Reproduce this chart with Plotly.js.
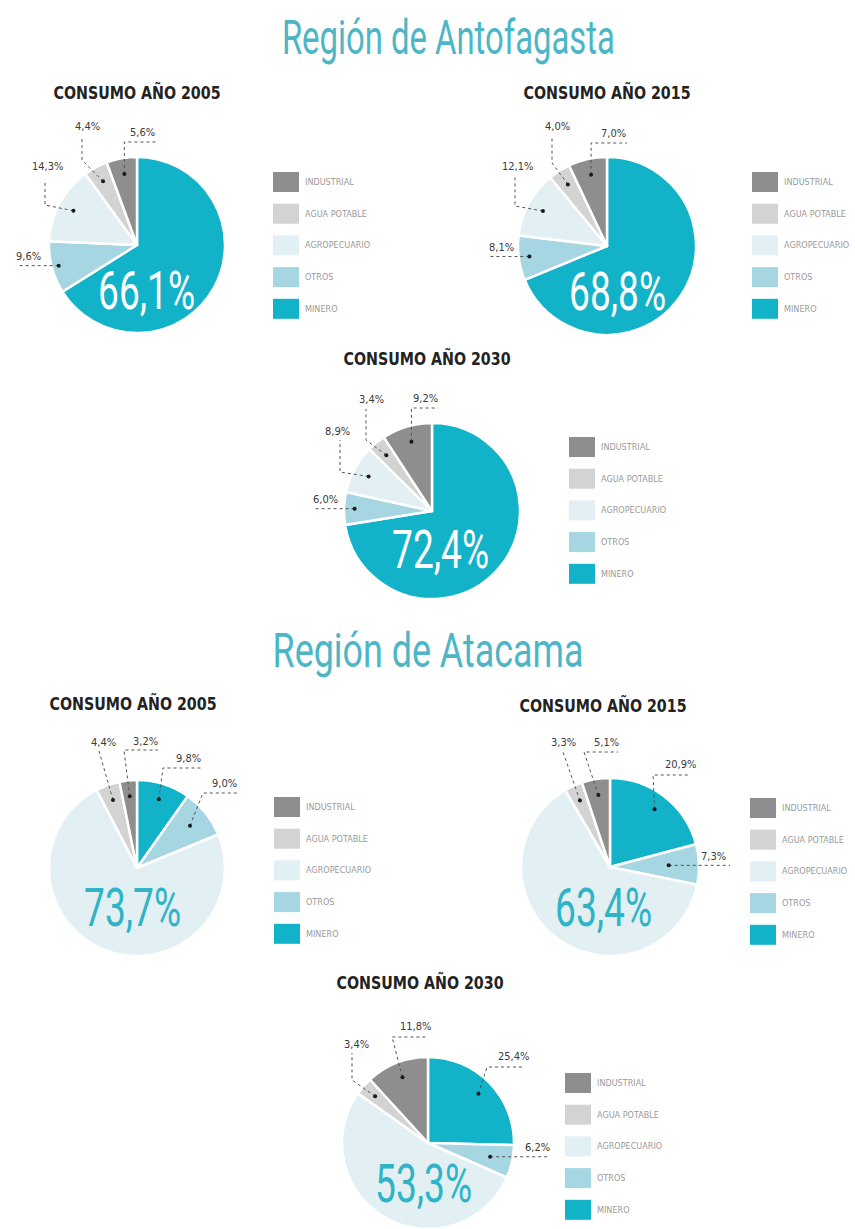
<!DOCTYPE html>
<html>
<head>
<meta charset="utf-8">
<script src="https://cdn.plot.ly/plotly-3.0.1.min.js"></script>
<style>html,body{margin:0;padding:0;background:#fff;}#chart{width:855px;height:1229px;}</style>
</head>
<body>
<div id="chart"></div>
<script>
// ---------- DATA ----------
// slice order (clockwise from 12 o'clock)
const sectors = ['MINERO', 'OTROS', 'AGROPECUARIO', 'AGUA POTABLE', 'INDUSTRIAL'];
const legendLabels = ['INDUSTRIAL', 'AGUA POTABLE', 'AGROPECUARIO', 'OTROS', 'MINERO'];
const regionTitles = ['Región de Antofagasta', 'Región de Atacama'];
const yearTitles = ['CONSUMO AÑO 2005', 'CONSUMO AÑO 2015', 'CONSUMO AÑO 2030'];

const antofagasta2005 = [66.1, 9.6, 14.3, 4.4, 5.6];
const antofagasta2015 = [68.8, 8.1, 12.1, 4.0, 7.0];
const antofagasta2030 = [72.4, 6.0, 8.9, 3.4, 9.2];
const atacama2005 = [9.8, 9.0, 73.7, 4.4, 3.2];
const atacama2015 = [20.9, 7.3, 63.4, 3.3, 5.1];
const atacama2030 = [25.4, 6.2, 53.3, 3.4, 11.8];

// ---------- STYLE / LAYOUT ----------
const W = 855, H = 1229;
const COND = '"DejaVu Sans Condensed", "Liberation Sans Narrow", sans-serif';
const LIGHT = 'Roboto, "DejaVu Sans Condensed", sans-serif';
const sectorColors = {
  'MINERO': '#12b2c9',
  'OTROS': '#a5d6e2',
  'AGROPECUARIO': '#e2eff3',
  'AGUA POTABLE': '#d3d3d3',
  'INDUSTRIAL': '#8e8e8e'
};
const TEAL = '#4cb6c6';

// positions in pixels (layout only)
const charts = [
  {values: antofagasta2005, title: 0, cx: 137, cy: 245, r: 88, tx: 137, ty: 92,
   big: {idx: 0, x: 146, y: 290, color: '#ffffff'}, lx: 273, ly: 182,
   leaders: [
     {idx: 4, pts: [[null, 142], [156, 142]], lab: [142, 132]},
     {idx: 3, pts: [[82, 160], [82, 136]], lab: [87, 126]},
     {idx: 2, pts: [[45, 205], [45, 181]], lab: [47, 166]},
     {idx: 1, k: 0.92, pts: [[18, null]], lab: [29, null]}
   ]},
  {values: antofagasta2015, title: 1, cx: 607, cy: 246, r: 89, tx: 607, ty: 92,
   big: {idx: 0, x: 617, y: 291, color: '#ffffff'}, lx: 752, ly: 182,
   leaders: [
     {idx: 4, pts: [[null, 143], [627, 143]], lab: [613, 133]},
     {idx: 3, pts: [[552, 163], [552, 136]], lab: [557, 126]},
     {idx: 2, pts: [[515, 206], [515, 177]], lab: [517, 166]},
     {idx: 1, k: 0.88, pts: [[488, null]], lab: [501, null]}
   ]},
  {values: antofagasta2030, title: 2, cx: 432, cy: 511, r: 88, tx: 427, ty: 358,
   big: {idx: 0, x: 440, y: 549, color: '#ffffff'}, lx: 569, ly: 447,
   leaders: [
     {idx: 4, pts: [[null, 408], [438, 408]], lab: [425, 398]},
     {idx: 3, pts: [[366, 440], [366, 409]], lab: [371, 400]},
     {idx: 2, pts: [[340, 472], [340, 440]], lab: [337, 431]},
     {idx: 1, k: 0.88, pts: [[315, null]], lab: [325, null]}
   ]},
  {values: atacama2005, title: 0, cx: 137, cy: 868, r: 88, tx: 133, ty: 703,
   big: {idx: 2, x: 132, y: 907, color: '#2fb3c7'}, lx: 274, ly: 807,
   leaders: [
     {idx: 4, pts: [[124, 750], [158, 750]], lab: [145, 741]},
     {idx: 3, pts: [[99, 751]], lab: [103, 742]},
     {idx: 0, pts: [[163, 768], [202, 768]], lab: [188, 758]},
     {idx: 1, k: 0.77, pts: [[203, 793], [238, 793]], lab: [224, 783]}
   ]},
  {values: atacama2015, title: 1, cx: 610, cy: 867, r: 89, tx: 603, ty: 705,
   big: {idx: 2, x: 603, y: 907, color: '#2fb3c7'}, lx: 750, ly: 808,
   leaders: [
     {idx: 4, pts: [[584, 752], [618, 752]], lab: [606, 742]},
     {idx: 3, pts: [[563, 752]], lab: [563, 742]},
     {idx: 0, pts: [[653, 775], [688, 775]], lab: [680, 764]},
     {idx: 1, k: 0.66, pts: [[730, null]], lab: [713, null]}
   ]},
  {values: atacama2030, title: 2, cx: 428, cy: 1143, r: 86, tx: 420, ty: 982,
   big: {idx: 2, x: 423, y: 1183, color: '#2fb3c7'}, lx: 565, ly: 1083,
   leaders: [
     {idx: 4, pts: [[392, 1037], [427, 1037]], lab: [415, 1026]},
     {idx: 3, pts: [[352, 1080], [352, 1053]], lab: [356, 1044]},
     {idx: 0, pts: [[487, 1067], [522, 1067]], lab: [513, 1056]},
     {idx: 1, k: 0.74, pts: [[550, null]], lab: [537, null]}
   ]}
];
const regionPos = [[448, 38], [428, 651]];
const regionWidth = [333, 311];
const LEG_STEP = 31.7, SW = 26, SH = 20;
const DOT_K = 0.82;

// ---------- BUILD ----------
const px = x => x / W;
const py = y => 1 - y / H;
const fmt = v => v.toFixed(1).replace('.', ',') + '%';

const traces = [];
const shapes = [];
const annotations = [];
const condense = []; // {i, w}: squeeze annotation i to width w (narrow display face)

function ann(text, x, y, font, xanchor) {
  annotations.push({text: text, x: px(x), y: py(y), xref: 'paper', yref: 'paper',
    xanchor: xanchor || 'center', yanchor: 'middle', showarrow: false, font: font});
  return annotations.length - 1;
}

regionTitles.forEach((t, i) => {
  const idx = ann(t, regionPos[i][0], regionPos[i][1], {family: LIGHT, size: 48, weight: 400, color: TEAL});
  condense.push({i: idx, w: regionWidth[i]});
});

charts.forEach(c => {
  traces.push({
    type: 'pie', labels: sectors, values: c.values, sort: false, direction: 'clockwise', rotation: 0,
    textinfo: 'none', hoverinfo: 'label+percent', showlegend: false,
    marker: {colors: sectors.map(s => sectorColors[s]), line: {color: '#ffffff', width: 2.5}},
    domain: {x: [px(c.cx - c.r), px(c.cx + c.r)], y: [py(c.cy + c.r), py(c.cy - c.r)]}
  });
  // year title
  let idx = ann(yearTitles[c.title], c.tx, c.ty, {family: COND, size: 18, weight: 'bold', color: '#222222'});
  condense.push({i: idx, w: 167});
  // big label
  idx = ann(fmt(c.values[c.big.idx]), c.big.x, c.big.y, {family: LIGHT, size: 54, weight: 400, color: c.big.color});
  condense.push({i: idx, w: 97});
  // leaders
  const total = c.values.reduce((a, b) => a + b, 0);
  const cum = [];
  c.values.reduce((a, v, i) => { cum[i] = a; return a + v; }, 0);
  c.leaders.forEach(L => {
    const k = L.k || DOT_K;
    const th = 2 * Math.PI * (cum[L.idx] + c.values[L.idx] / 2) / total;
    const dx = c.cx + k * c.r * Math.sin(th);
    const dy = c.cy - k * c.r * Math.cos(th);
    let path = 'M ' + px(dx) + ',' + py(dy);
    let lastY = dy;
    L.pts.forEach(p => {
      const X = p[0] === null ? dx : p[0];
      const Y = p[1] === null ? dy : p[1];
      lastY = Y;
      path += ' L ' + px(X) + ',' + py(Y);
    });
    shapes.push({type: 'path', xref: 'paper', yref: 'paper', path: path,
      line: {color: '#555555', width: 1, dash: 'dot'}});
    shapes.push({type: 'circle', xref: 'paper', yref: 'paper',
      x0: px(dx - 2), x1: px(dx + 2), y0: py(dy + 2), y1: py(dy - 2),
      fillcolor: '#1a1a1a', line: {width: 0}});
    const ly = L.lab[1] === null ? lastY - 9 : L.lab[1];
    ann(fmt(c.values[L.idx]), L.lab[0], ly, {family: COND, size: 11, color: '#3a3a3a'});
  });
  // legend
  legendLabels.forEach((lab, i) => {
    const yc = c.ly + i * LEG_STEP;
    shapes.push({type: 'rect', xref: 'paper', yref: 'paper',
      x0: px(c.lx), x1: px(c.lx + SW), y0: py(yc + SH / 2), y1: py(yc - SH / 2),
      fillcolor: sectorColors[lab], line: {width: 0}});
    ann(lab, c.lx + SW + 4, yc, {family: COND, size: 9, color: '#9a9a9a'}, 'left');
  });
});

const layout = {
  width: W, height: H, margin: {l: 0, r: 0, t: 0, b: 0},
  paper_bgcolor: '#ffffff', plot_bgcolor: '#ffffff',
  showlegend: false, shapes: shapes, annotations: annotations
};
Plotly.newPlot('chart', traces, layout, {displayModeBar: false, staticPlot: true}).then(gd => {
  condense.forEach(o => {
    const t = gd.querySelector('.annotation[data-index="' + o.i + '"] text.annotation-text');
    if (t) {
      t.setAttribute('textLength', o.w);
      t.setAttribute('lengthAdjust', 'spacingAndGlyphs');
    }
  });
});
</script>
</body>
</html>
